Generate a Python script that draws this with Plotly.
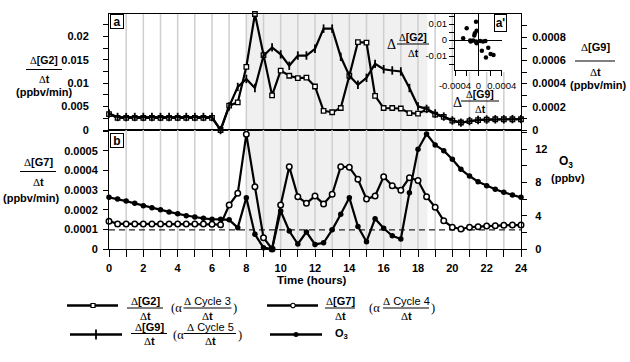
import plotly.graph_objects as go

W, H = 630, 362

# ---------------- data ----------------
hours = [0, 0.5, 1, 1.5, 2, 2.5, 3, 3.5, 4, 4.5, 5, 5.5, 6, 6.5, 7, 7.5, 8, 8.5, 9, 9.5,
         10, 10.5, 11, 11.5, 12, 12.5, 13, 13.5, 14, 14.5, 15, 15.5, 16, 16.5, 17, 17.5,
         18, 18.5, 19, 19.5, 20, 20.5, 21, 21.5, 22, 22.5, 23, 23.5, 24]

dG2 = [0.0034, 0.0026, 0.0026, 0.0026, 0.0026, 0.0026, 0.0026, 0.0026, 0.0026, 0.0026,
       0.0026, 0.0026, 0.0026, 0.0, 0.0052, 0.0059, 0.0135, 0.0248, 0.0160, 0.0074,
       0.0127, 0.0116, 0.0111, 0.0112, 0.0093, 0.0041, 0.0038, 0.0047, 0.0116, 0.0188,
       0.0187, 0.0073, 0.0047, 0.0047, 0.0046, 0.0036, 0.0035, 0.0044, 0.0033, 0.0028,
       0.0020, 0.0016, 0.0019, 0.0021, 0.0022, 0.0023, 0.0023, 0.0023, 0.0023]

dG9 = [0.000142, 0.000112, 0.000111, 0.000112, 0.000112, 0.000112, 0.000112, 0.000112,
       0.000112, 0.000112, 0.000112, 0.000112, 0.000112, 0.0, 0.000204, 0.000371, 0.00044,
       0.000362, 0.00064, 0.000712, 0.000652, 0.000554, 0.000642, 0.000642, 0.0007,
       0.000874, 0.000874, 0.000631, 0.000468, 0.00039, 0.00045, 0.00057, 0.000524,
       0.000513, 0.000505, 0.000362, 0.000204, 0.000182, 0.000142, 0.000116, 0.000082,
       0.000064, 0.000077, 0.000086, 0.00009, 0.000092, 0.000092, 0.000094, 0.000094]

dG7 = [0.000142, 0.000128, 0.000128, 0.000128, 0.000128, 0.000128, 0.000128, 0.000128,
       0.000128, 0.000128, 0.000128, 0.000127, 0.000126, 0.000124, 0.000224, 0.000284,
       0.000585, 0.000318, 0.000058, 0.0, 0.000224, 0.00042, 0.000267, 0.000233, 0.00027,
       0.00023, 0.000279, 0.00042, 0.000417, 0.000356, 0.000255, 0.00027, 0.000369,
       0.000323, 0.0003, 0.000364, 0.000349, 0.000267, 0.000213, 0.000144, 0.000111,
       0.000102, 0.000111, 0.000114, 0.000117, 0.000119, 0.000121, 0.000122, 0.000122]

o3 = [6.2, 6.0, 5.75, 5.48, 5.2, 4.96, 4.7, 4.45, 4.22, 4.0, 3.84, 3.68, 3.57, 3.56, 3.5,
      2.56, 6.16, 1.76, 0.16, 0.0, 4.56, 2.16, 0.6, 2.04, 0.55, 0.75, 2.3, 4.18, 6.16, 2.7,
      0.88, 3.64, 2.48, 1.58, 1.2, 6.76, 11.96, 13.8, 12.48, 11.8, 10.76, 9.56, 8.76, 8.08,
      7.6, 7.16, 6.8, 6.48, 6.2]

G7_REF_LEVEL = 0.0000975
SHADE_START, SHADE_END = 8.0, 18.55

inset_dG9 = [-0.00004, -0.0002, -0.00003, -0.00006, -0.00007, -0.00026, -0.00014,
             -0.00009, -0.00004, 0.00003, 0.00008, -0.00003, -0.00013, 0.00006, 0.00017,
             0.00021, 0.00013, 0.00026, 0.00012]
inset_dG2 = [0.0114, 0.0073, 0.0058, 0.0042, 0.0028, 0.0011, -0.0003, -0.0003, -0.0009,
             -0.0006, -0.0009, -0.002, -0.001, -0.0067, -0.0048, -0.0088, -0.011, -0.0094,
             -0.0006]

# ---------------- helpers ----------------
def px(x):
    return x / W

def py(y):
    return 1 - y / H

FONT = "Liberation Sans"
SERIF = "Liberation Serif"
D = '<span style="font-family:Liberation Serif;font-weight:normal">Δ</span>'

fig = go.Figure()

LINE_W = 2.2
common = dict(mode="lines+markers", cliponaxis=False, hoverinfo="skip", showlegend=False)

fig.add_trace(go.Scatter(x=hours, y=dG2, xaxis="x", yaxis="y",
                         line=dict(color="black", width=LINE_W),
                         marker=dict(symbol="square", size=4.5, color="white",
                                     line=dict(color="black", width=1.3)), **common))
fig.add_trace(go.Scatter(x=hours, y=dG9, xaxis="x", yaxis="y2",
                         line=dict(color="black", width=LINE_W),
                         marker=dict(symbol="line-ns", size=6,
                                     line=dict(color="black", width=1.8)), **common))
fig.add_trace(go.Scatter(x=[0, 24], y=[G7_REF_LEVEL, G7_REF_LEVEL], xaxis="x2", yaxis="y3",
                         mode="lines", line=dict(color="#222", width=1.3, dash="6px,4px"),
                         hoverinfo="skip", showlegend=False))
fig.add_trace(go.Scatter(x=hours, y=dG7, xaxis="x2", yaxis="y3",
                         line=dict(color="black", width=LINE_W),
                         marker=dict(symbol="circle", size=5.5, color="white",
                                     line=dict(color="black", width=1.5)), **common))
fig.add_trace(go.Scatter(x=hours, y=o3, xaxis="x2", yaxis="y4",
                         line=dict(color="black", width=LINE_W),
                         marker=dict(symbol="circle", size=5.5, color="black"), **common))
# inset
fig.add_trace(go.Scatter(x=inset_dG9, y=inset_dG2, xaxis="x3", yaxis="y5", mode="markers",
                         marker=dict(symbol="circle", size=4.5, color="black"),
                         cliponaxis=False, hoverinfo="skip", showlegend=False))

# ---------------- legend glyphs (hidden pixel axes) ----------------
legend_glyphs = [
    # (x0, x1, xmarker, y, marker dict)
    (67, 118, 93, 305.5, dict(symbol="square", size=4, color="white", line=dict(color="black", width=1.2))),
    (267, 318, 293, 305.5, dict(symbol="circle", size=4.5, color="white", line=dict(color="black", width=1.2))),
    (70, 122, 96, 334.5, dict(symbol="line-ns", size=7, line=dict(color="black", width=1.8))),
    (270, 322, 296, 334.5, dict(symbol="circle", size=5, color="black")),
]
for x0, x1, xm, yy, mk in legend_glyphs:
    fig.add_trace(go.Scatter(x=[x0, x1], y=[yy, yy], xaxis="x4", yaxis="y6", mode="lines",
                             line=dict(color="black", width=2.4), hoverinfo="skip",
                             showlegend=False, cliponaxis=False))
    fig.add_trace(go.Scatter(x=[xm], y=[yy], xaxis="x4", yaxis="y6", mode="markers",
                             marker=mk, hoverinfo="skip", showlegend=False, cliponaxis=False))

# ---------------- axes ----------------
XD = [px(109), px(521)]
YA = [py(130), py(14)]
YB = [py(249), py(130)]
tickfont = dict(family=FONT, size=11, color="black", weight="bold")
ax_common = dict(showline=True, linecolor="black", linewidth=1, ticks="outside",
                 tickcolor="black", tickwidth=1, showgrid=False, zeroline=False,
                 automargin=False, fixedrange=True, tickfont=tickfont)

G2_TOP = 0.0248
G9_TOP = 0.001
G7_TOP = 0.000607
O3_TOP = 14.28

g2_ticks = [0, 0.0025, 0.005, 0.0075, 0.01, 0.0125, 0.015, 0.0175, 0.02, 0.0225]
g2_text = ["0", "", "0.005", "", "0.01", "", "0.015", "", "0.02", ""]
g9_ticks = [0, 0.0001, 0.0002, 0.0003, 0.0004, 0.0005, 0.0006, 0.0007, 0.0008, 0.0009]
g9_text = ["0", "", "0.0002", "", "0.0004", "", "0.0006", "", "0.0008", ""]
g7_ticks = [0, 0.0001, 0.0002, 0.0003, 0.0004, 0.0005, 0.0006]
g7_text = ["0", "0.0001", "0.0002", "0.0003", "0.0004", "0.0005", ""]
o3_ticks = [0, 2, 4, 6, 8, 10, 12, 14]
o3_text = ["0", "", "4", "", "8", "", "12", ""]
hour_ticks = list(range(25))
hour_text = [str(h) if h % 2 == 0 else "" for h in hour_ticks]

inset_font = dict(family=FONT, size=9.5, color="black")

fig.update_layout(
    width=W, height=H, margin=dict(l=0, r=0, t=0, b=0),
    paper_bgcolor="white", plot_bgcolor="rgba(0,0,0,0)",
    font=dict(family=FONT, size=11, color="black"),
    showlegend=False,
    xaxis=dict(domain=XD, range=[0, 24], anchor="y", mirror=True, ticks="",
               showticklabels=False, **{k: v for k, v in ax_common.items() if k != "ticks"}),
    yaxis=dict(domain=YA, range=[0, G2_TOP], anchor="x", tickvals=g2_ticks, ticktext=g2_text,
               ticklen=5, ticklabelstandoff=12, **ax_common),
    yaxis2=dict(range=[0, G9_TOP], overlaying="y", side="right", anchor="x",
                tickvals=g9_ticks, ticktext=g9_text, ticklen=5, ticklabelstandoff=3, **ax_common),
    xaxis2=dict(domain=XD, range=[0, 24], anchor="y3", mirror=True, tickvals=hour_ticks,
                ticktext=hour_text, ticklen=7, ticklabelstandoff=2, **ax_common),
    yaxis3=dict(domain=YB, range=[0, G7_TOP], anchor="x2", tickvals=g7_ticks, ticktext=g7_text,
                ticklen=5, ticklabelstandoff=3, **ax_common),
    yaxis4=dict(range=[0, O3_TOP], overlaying="y3", side="right", anchor="x2",
                tickvals=o3_ticks, ticktext=o3_text, ticklen=5, ticklabelstandoff=6, **ax_common),
    xaxis3=dict(domain=[px(455), px(501.7)], range=[-0.0004, 0.0004], anchor="y5",
                tickvals=[-0.0004, -0.0002, 0, 0.0002, 0.0004],
                ticktext=["-0.0004", "", "0", "", "0.0004"],
                showline=True, linecolor="black", linewidth=1, ticks="outside", ticklen=5,
                tickcolor="black", showgrid=False, zeroline=True, zerolinecolor="black",
                zerolinewidth=1, automargin=False, fixedrange=True, ticklabelstandoff=2,
                tickfont=inset_font),
    yaxis5=dict(domain=[py(70), py(14)], range=[-0.01875, 0.01625], anchor="x3",
                tickvals=[-0.015, -0.01, -0.005, 0, 0.005, 0.01, 0.015],
                ticktext=["", "-0.01", "", "0", "", "0.01", ""],
                showline=True, linecolor="black", linewidth=1, ticks="outside", ticklen=5,
                tickcolor="black", showgrid=False, zeroline=True, zerolinecolor="black",
                zerolinewidth=1, automargin=False, fixedrange=True,
                tickfont=inset_font),
    xaxis4=dict(domain=[0, 1], range=[0, W], anchor="y6", visible=False, fixedrange=True),
    yaxis6=dict(domain=[0, 1], range=[H, 0], anchor="x4", visible=False, fixedrange=True),
)

# ---------------- shading, grid, inset background ----------------
SHADE = "rgba(0,0,0,0.06)"
GRID = "#cfcfcf"
for xr, yr, top in (("x", "y", G2_TOP), ("x2", "y3", G7_TOP)):
    fig.add_shape(type="rect", xref=xr, yref=yr, x0=SHADE_START, x1=SHADE_END, y0=0, y1=top,
                  fillcolor=SHADE, line=dict(width=0), layer="below")
    for h in range(1, 24):
        fig.add_shape(type="line", xref=xr, yref=yr, x0=h, x1=h, y0=0, y1=top,
                      line=dict(color=GRID, width=1.5), layer="below")
# white backdrop behind the inset
fig.add_shape(type="rect", xref="x", yref="y", x0=20.15, x1=23.65, y0=0.0124, y1=G2_TOP,
              fillcolor="white", line=dict(width=0), layer="below")

# ---------------- text ----------------
def text(x, y, s, size=11, xanchor="center", family=FONT):
    fig.add_annotation(x=px(x), y=py(y), xref="paper", yref="paper", text=s, showarrow=False,
                       xanchor=xanchor, yanchor="middle",
                       font=dict(family=family, size=size, color="black"))

def hbar(x0, x1, y):
    fig.add_shape(type="line", xref="paper", yref="paper", x0=px(x0), x1=px(x1),
                  y0=py(y), y1=py(y), line=dict(color="black", width=1), layer="above")

def frac(xc, yn, yb, yd, num, den, half, size=11):
    text(xc, yn, num, size)
    text(xc, yd, den, size)
    hbar(xc - half, xc + half, yb)

# axis titles
frac(44, 60, 69.5, 79, D + "<b>[G2]</b>", D + "<b>t</b>", 18, 10.5)
text(44, 92, "<b>(ppbv/min)</b>")
frac(38, 162, 171.5, 181.5, D + "<b>[G7]</b>", D + "<b>t</b>", 18)
text(31, 198, "<b>(ppbv/min)</b>")
frac(595, 47, 61, 72, D + "<b>[G9]</b>", D + "<b>t</b>", 20)
text(598, 85, "<b>(ppbv/min)</b>")
text(566, 162, "<b>O<sub>3</sub></b>", 12)
text(568, 178, "<b>(ppbv)</b>")
text(312, 280, "<b>Time (hours)</b>", 11.5)

# inset titles
text(391, 44, "Δ", 14, family=SERIF)
frac(413, 37, 44, 53, D + "<b>[G2]</b>", D + "<b>t</b>", 16, 10.5)
text(457, 102, "Δ", 14, family=SERIF)
frac(480, 94, 101, 109, D + "<b>[G9]</b>", D + "<b>t</b>", 19, 10.5)

# panel letters
def letter(x, y, s, w, h):
    fig.add_annotation(x=px(x), y=py(y), xref="paper", yref="paper", text=s, showarrow=False,
                       xanchor="left", yanchor="top", width=w, height=h, align="center",
                       bgcolor="white", bordercolor="black", borderwidth=1, borderpad=0,
                       font=dict(family=FONT, size=12, color="black"))

letter(110, 14.5, "<b>a</b>", 12, 13)
letter(110, 133, "<b>b</b>", 12, 13)
letter(494, 14.5, "<b>a'</b>", 11, 16)

# legend texts
frac(145, 301, 308, 315.5, D + "<b>[G2]</b>", D + "<b>t</b>", 18)
text(176, 308, "(α", 12.5, family=SERIF)
frac(207.5, 301, 308, 315.5, D + " Cycle 3", D + "<b>t</b>", 24)
text(235, 308, ")", 12.5, family=SERIF)

frac(340, 301, 308, 315.5, D + "<b>[G7]</b>", D + "<b>t</b>", 15)
text(374, 308, "(α", 12.5, family=SERIF)
frac(406, 301, 308, 315.5, D + " Cycle 4", D + "<b>t</b>", 23)
text(433, 308, ")", 12.5, family=SERIF)

frac(149, 327, 333.5, 341, D + "<b>[G9]</b>", D + "<b>t</b>", 18)
text(178, 335, "(α", 12.5, family=SERIF)
frac(210, 327, 333.5, 341, D + " Cycle 5", D + "<b>t</b>", 26)
text(240, 335, ")", 12.5, family=SERIF)

text(333, 334, "<b>O<sub>3</sub></b>", 11, xanchor="left")

fig.write_html("out.html")
